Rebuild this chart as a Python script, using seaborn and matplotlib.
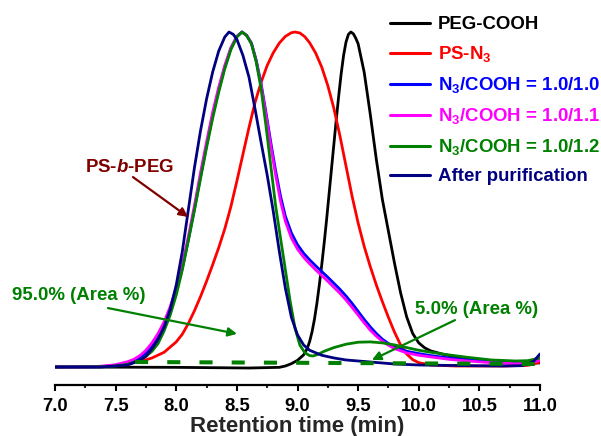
import numpy as np
import pandas as pd
import matplotlib
matplotlib.use("Agg")
import matplotlib.pyplot as plt
import seaborn as sns

sns.set_style("white")
plt.rcParams["font.family"] = ["Liberation Sans", "DejaVu Sans"]
plt.rcParams["font.weight"] = "bold"
plt.rcParams["mathtext.fontset"] = "custom"
plt.rcParams["mathtext.rm"] = "Liberation Sans:bold"
plt.rcParams["mathtext.bf"] = "Liberation Sans:bold"
plt.rcParams["mathtext.it"] = "Liberation Sans:bold:italic"
plt.rcParams["mathtext.default"] = "rm"

# GPC traces: retention time (min) and normalised RI response
peg_t = [7.0, 8.0, 8.6, 8.85, 8.9, 8.95, 9.0, 9.05, 9.08, 9.1, 9.12, 9.14, 9.16, 9.18,
         9.2, 9.22, 9.24, 9.26, 9.28, 9.3, 9.32, 9.34, 9.36, 9.38, 9.4, 9.42, 9.44,
         9.46, 9.48, 9.5, 9.55, 9.6, 9.65, 9.7, 9.75, 9.8, 9.85, 9.9, 9.95, 10.0, 10.05,
         10.1, 10.2, 10.3, 10.4, 10.6, 10.8, 11.0]
peg_i = [0.0, -0.001, -0.003, -0.001, 0.003, 0.01, 0.02, 0.036, 0.055, 0.076, 0.105,
         0.143, 0.19, 0.245, 0.305, 0.37, 0.44, 0.515, 0.59, 0.665, 0.74, 0.81, 0.875,
         0.93, 0.97, 0.993, 1.0, 0.995, 0.982, 0.965, 0.88, 0.755, 0.62, 0.5, 0.405,
         0.31, 0.222, 0.15, 0.1, 0.072, 0.057, 0.048, 0.038, 0.031, 0.025, 0.017, 0.013,
         0.012]

ps_t = [7.0, 7.3, 7.4, 7.5, 7.6, 7.7, 7.8, 7.9, 8.0, 8.05, 8.1, 8.15, 8.2, 8.25, 8.3,
        8.35, 8.4, 8.45, 8.5, 8.55, 8.6, 8.65, 8.7, 8.75, 8.8, 8.85, 8.9, 8.95, 8.98,
        9.02, 9.06, 9.1, 9.15, 9.2, 9.25, 9.3, 9.35, 9.4, 9.45, 9.5, 9.55, 9.6, 9.65,
        9.7, 9.75, 9.8, 9.85, 9.9, 9.95, 10.0, 10.1, 10.3, 10.7, 10.9, 10.95, 11.0]
ps_i = [0.0, 0.001, 0.002, 0.005, 0.01, 0.016, 0.027, 0.044, 0.075, 0.098, 0.13,
        0.168, 0.21, 0.256, 0.305, 0.356, 0.412, 0.478, 0.555, 0.635, 0.715, 0.79,
        0.85, 0.9, 0.938, 0.967, 0.987, 0.998, 1.0, 0.997, 0.986, 0.968, 0.937, 0.895,
        0.84, 0.772, 0.69, 0.6, 0.51, 0.43, 0.36, 0.3, 0.245, 0.195, 0.148, 0.104,
        0.066, 0.039, 0.022, 0.013, 0.006, 0.003, 0.003, 0.005, 0.009, 0.015]

r10_t = [7.0, 7.4, 7.5, 7.6, 7.7, 7.75, 7.8, 7.85, 7.9, 7.95, 8.0, 8.05, 8.1, 8.15,
         8.2, 8.25, 8.3, 8.35, 8.4, 8.45, 8.5, 8.542, 8.58, 8.62, 8.66, 8.7, 8.74, 8.78,
         8.82, 8.86, 8.9, 8.95, 9.0, 9.05, 9.1, 9.15, 9.2, 9.25, 9.3, 9.35, 9.4, 9.45,
         9.5, 9.55, 9.6, 9.65, 9.7, 9.75, 9.8, 9.9, 10.0, 10.1, 10.25, 10.4, 10.6, 10.8,
         10.9, 10.95, 11.0]
r10_i = [0.0, 0.001, 0.005, 0.011, 0.027, 0.042, 0.063, 0.09, 0.125, 0.17, 0.225,
         0.295, 0.38, 0.472, 0.568, 0.662, 0.75, 0.828, 0.895, 0.95, 0.987, 1.0, 0.99,
         0.967, 0.915, 0.845, 0.76, 0.67, 0.585, 0.51, 0.45, 0.4, 0.365, 0.34, 0.32,
         0.302, 0.285, 0.268, 0.25, 0.232, 0.212, 0.19, 0.166, 0.142, 0.12, 0.1, 0.083,
         0.07, 0.06, 0.047, 0.04, 0.034, 0.027, 0.021, 0.016, 0.013, 0.015, 0.019, 0.027]

r11_t = [7.0, 7.3, 7.4, 7.5, 7.6, 7.65, 7.7, 7.75, 7.8, 7.85, 7.9, 7.95, 8.0, 8.05,
         8.1, 8.15, 8.2, 8.25, 8.3, 8.35, 8.4, 8.45, 8.5, 8.542, 8.58, 8.62, 8.66, 8.7,
         8.74, 8.78, 8.82, 8.86, 8.9, 8.95, 9.0, 9.05, 9.1, 9.15, 9.2, 9.25, 9.3, 9.35,
         9.4, 9.45, 9.5, 9.55, 9.6, 9.65, 9.7, 9.75, 9.8, 9.9, 10.0, 10.1, 10.25, 10.4,
         10.6, 10.8, 10.9, 10.95, 11.0]
r11_i = [0.0, 0.001, 0.003, 0.007, 0.016, 0.023, 0.034, 0.05, 0.072, 0.1, 0.135,
         0.18, 0.235, 0.305, 0.39, 0.482, 0.58, 0.672, 0.76, 0.835, 0.9, 0.953, 0.987,
         1.0, 0.99, 0.966, 0.912, 0.84, 0.752, 0.66, 0.572, 0.495, 0.435, 0.385, 0.352,
         0.328, 0.308, 0.29, 0.273, 0.256, 0.238, 0.22, 0.2, 0.178, 0.155, 0.132, 0.11,
         0.092, 0.077, 0.065, 0.055, 0.042, 0.035, 0.03, 0.023, 0.018, 0.013, 0.01,
         0.011, 0.014, 0.021]

r12_t = [7.0, 7.4, 7.5, 7.6, 7.7, 7.75, 7.8, 7.85, 7.9, 7.95, 8.0, 8.05, 8.1, 8.15,
         8.2, 8.25, 8.3, 8.35, 8.4, 8.45, 8.5, 8.542, 8.58, 8.62, 8.66, 8.7, 8.74, 8.78,
         8.82, 8.86, 8.9, 8.94, 8.98, 9.02, 9.06, 9.1, 9.13, 9.17, 9.22, 9.3, 9.4, 9.5,
         9.6, 9.7, 9.8, 9.9, 10.0, 10.1, 10.25, 10.4, 10.6, 10.8, 10.9, 11.0]
r12_i = [0.0, 0.001, 0.003, 0.008, 0.02, 0.032, 0.047, 0.07, 0.108, 0.155, 0.215,
         0.29, 0.378, 0.468, 0.562, 0.655, 0.742, 0.82, 0.89, 0.947, 0.985, 1.0, 0.99,
         0.965, 0.91, 0.83, 0.72, 0.6, 0.48, 0.385, 0.29, 0.195, 0.115, 0.065, 0.043,
         0.034, 0.033, 0.038, 0.047, 0.058, 0.068, 0.074, 0.075, 0.072, 0.066, 0.058,
         0.05, 0.044, 0.036, 0.029, 0.021, 0.018, 0.019, 0.027]

pur_t = [7.0, 7.37, 7.5, 7.6, 7.7, 7.75, 7.8, 7.85, 7.9, 7.95, 8.0, 8.05, 8.1, 8.15,
         8.2, 8.25, 8.3, 8.35, 8.4, 8.435, 8.47, 8.5, 8.55, 8.6, 8.65, 8.7, 8.75, 8.8,
         8.85, 8.9, 8.95, 9.0, 9.05, 9.1, 9.2, 9.3, 9.4, 9.6, 9.8, 10.0, 10.4, 10.7,
         10.85, 10.9, 10.95, 11.0]
pur_i = [0.0, 0.0, 0.003, 0.006, 0.02, 0.032, 0.055, 0.083, 0.12, 0.172, 0.245,
         0.345, 0.47, 0.595, 0.705, 0.8, 0.88, 0.943, 0.985, 1.0, 0.993, 0.978, 0.93,
         0.865, 0.77, 0.67, 0.573, 0.465, 0.345, 0.235, 0.148, 0.096, 0.066, 0.05,
         0.035, 0.027, 0.021, 0.015, 0.009, 0.006, 0.004, 0.003, 0.004, 0.008, 0.018,
         0.039]

# integration baseline of the 1.0/1.2 trace
base_t = [7.66, 11.0]
base_i = [0.015, 0.009]

labels = ["PEG-COOH", "PS-N$_3$", "N$_3$/COOH = 1.0/1.0", "N$_3$/COOH = 1.0/1.1",
          "N$_3$/COOH = 1.0/1.2", "After purification"]
colors = ["#000000", "#FF0000", "#0000FF", "#FF00FF", "#008000", "#000080"]
series_t = [peg_t, ps_t, r10_t, r11_t, r12_t, pur_t]
series_i = [peg_i, ps_i, r10_i, r11_i, r12_i, pur_i]

frames = []
for lab, t, i in zip(labels, series_t, series_i):
    frames.append(pd.DataFrame({"Retention time (min)": t, "Intensity": i, "Sample": lab}))
df = pd.concat(frames, ignore_index=True)

fig = plt.figure(figsize=(6.01, 4.36), dpi=100)
ax = fig.add_axes([55 / 601, 1 - 385 / 436, (540 - 55) / 601, (385 - 10) / 436])

sns.lineplot(data=df, x="Retention time (min)", y="Intensity", hue="Sample",
             hue_order=labels, palette=colors, estimator=None, sort=False,
             linewidth=2.0, ax=ax)
for ln in ax.lines:
    ln.set_solid_joinstyle("round")

ax.plot(base_t, base_i, color="#008000", lw=2.9, linestyle=(0, (3.25, 4.75)))

ax.set_xlim(7.0, 11.0)
ax.set_ylim(-0.0537, 1.0657)
ax.set_xticks(np.arange(7.0, 11.01, 0.5))
ax.set_xticks(np.arange(7.25, 11.0, 0.5), minor=True)
ax.set_xticklabels([f"{v:.1f}" for v in np.arange(7.0, 11.01, 0.5)])
ax.set_yticks([])
ax.set_ylabel("")
ax.set_xlabel("Retention time (min)", fontsize=16, fontweight="bold", labelpad=1)
for s in ["left", "right", "top"]:
    ax.spines[s].set_visible(False)
ax.spines["bottom"].set_linewidth(1.6)
ax.spines["bottom"].set_color("black")
ax.tick_params(axis="x", which="major", direction="out", length=4, width=1.5,
               labelsize=13.3, pad=5, bottom=True, colors="black")
ax.tick_params(axis="x", which="minor", direction="out", length=2.5, width=1.5, bottom=True)
for lbl in ax.get_xticklabels():
    lbl.set_fontweight("bold")

handles, labs = ax.get_legend_handles_labels()
leg = ax.legend(handles[:6], labs[:6], loc="upper left",
                bbox_to_anchor=(390 / 601, 1 - 16 / 436), bbox_transform=fig.transFigure,
                frameon=False, fontsize=13.45, handlelength=2.15, handletextpad=0.4,
                labelspacing=0.59, borderpad=0, borderaxespad=0, labelcolor="linecolor")
for line in leg.get_lines():
    line.set_linewidth(2.2)
for txt in leg.get_texts():
    txt.set_fontweight("bold")

# annotations
ax.text(7.61, 0.597, "PS-$\\mathit{b}$-PEG", color="#800000", fontsize=13.45,
        fontweight="bold", ha="center", va="center")
ax.annotate("", xy=(8.097, 0.448), xytext=(7.643, 0.567),
            arrowprops=dict(arrowstyle="-|>", color="#800000", lw=1.6,
                            mutation_scale=13, shrinkA=0, shrinkB=0))

ax.text(7.198, 0.212, "95.0% (Area %)", color="#008000", fontsize=13.45,
        fontweight="bold", ha="center", va="center")
ax.annotate("", xy=(8.501, 0.099), xytext=(7.437, 0.176),
            arrowprops=dict(arrowstyle="-|>", color="#008000", lw=1.6,
                            mutation_scale=13, shrinkA=0, shrinkB=0))

ax.text(10.48, 0.173, "5.0% (Area %)", color="#008000", fontsize=13.45,
        fontweight="bold", ha="center", va="center")
ax.annotate("", xy=(9.614, 0.021), xytext=(10.299, 0.140),
            arrowprops=dict(arrowstyle="-|>", color="#008000", lw=1.6,
                            mutation_scale=13, shrinkA=0, shrinkB=0))

fig.savefig("out.png", dpi=100)
